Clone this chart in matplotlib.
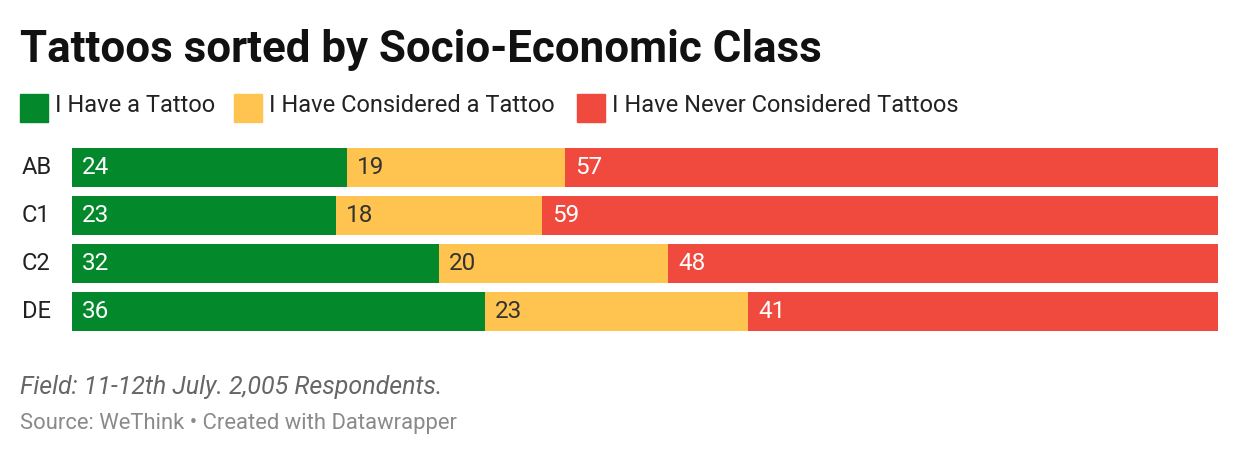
import matplotlib
matplotlib.use("Agg")
import matplotlib.pyplot as plt

classes = ["AB", "C1", "C2", "DE"]
have = [24, 23, 32, 36]
considered = [19, 18, 20, 23]
never = [57, 59, 48, 41]
series_names = ["I Have a Tattoo", "I Have Considered a Tattoo",
                "I Have Never Considered Tattoos"]
colors = ["#03882c", "#fec44f", "#ef4a3d"]
label_colors = ["white", "#333333", "white"]

W, H = 1240, 458
plt.rcParams["font.family"] = ["Roboto", "DejaVu Sans"]
fig = plt.figure(figsize=(W / 100, H / 100), dpi=100)


def px(x, y):
    return x / W, 1 - y / H


# bars
ax = fig.add_axes([72 / W, (H - 331) / H, (1218 - 72) / W, (331 - 148) / H])
left = [0] * len(classes)
for vals, c, lc in zip([have, considered, never], colors, label_colors):
    ax.barh(range(len(classes)), vals, left=left, height=0.8125, color=c)
    for i, v in enumerate(vals):
        ax.text(left[i] + 0.9, i, str(v), va="center", ha="left",
                color=lc, fontsize=17.5)
    left = [l + v for l, v in zip(left, vals)]
ax.set_xlim(0, 100)
ax.set_ylim(3 + 0.40625, -0.40625)
ax.axis("off")
for i, c in enumerate(classes):
    ax.text(-50 / 1146 * 100, i, c, va="center", ha="left",
            fontsize=17, color="#222222")

# title
fig.text(*px(20, 62), "Tattoos sorted by Socio-Economic Class",
         fontsize=31.6, fontweight="bold", color="#111111", va="baseline")

# legend
for (sx, tx), name, c in zip([(20, 55), (234, 269), (577, 612)],
                             series_names, colors):
    fig.patches.append(plt.Rectangle(px(sx, 122), 28 / W, 28 / H,
                                     transform=fig.transFigure, color=c))
    fig.text(*px(tx, 106), name, fontsize=17, color="#222222", va="center")

# footer
fig.text(*px(20, 387), "Field: 11-12th July. 2,005 Respondents.",
         fontsize=18, style="italic", color="#666666", va="center")
fig.text(*px(20, 424), "Source: WeThink \u2022 Created with Datawrapper",
         fontsize=15.8, color="#8a8a8a", va="center")

fig.savefig("out.png", dpi=100, facecolor="white")
